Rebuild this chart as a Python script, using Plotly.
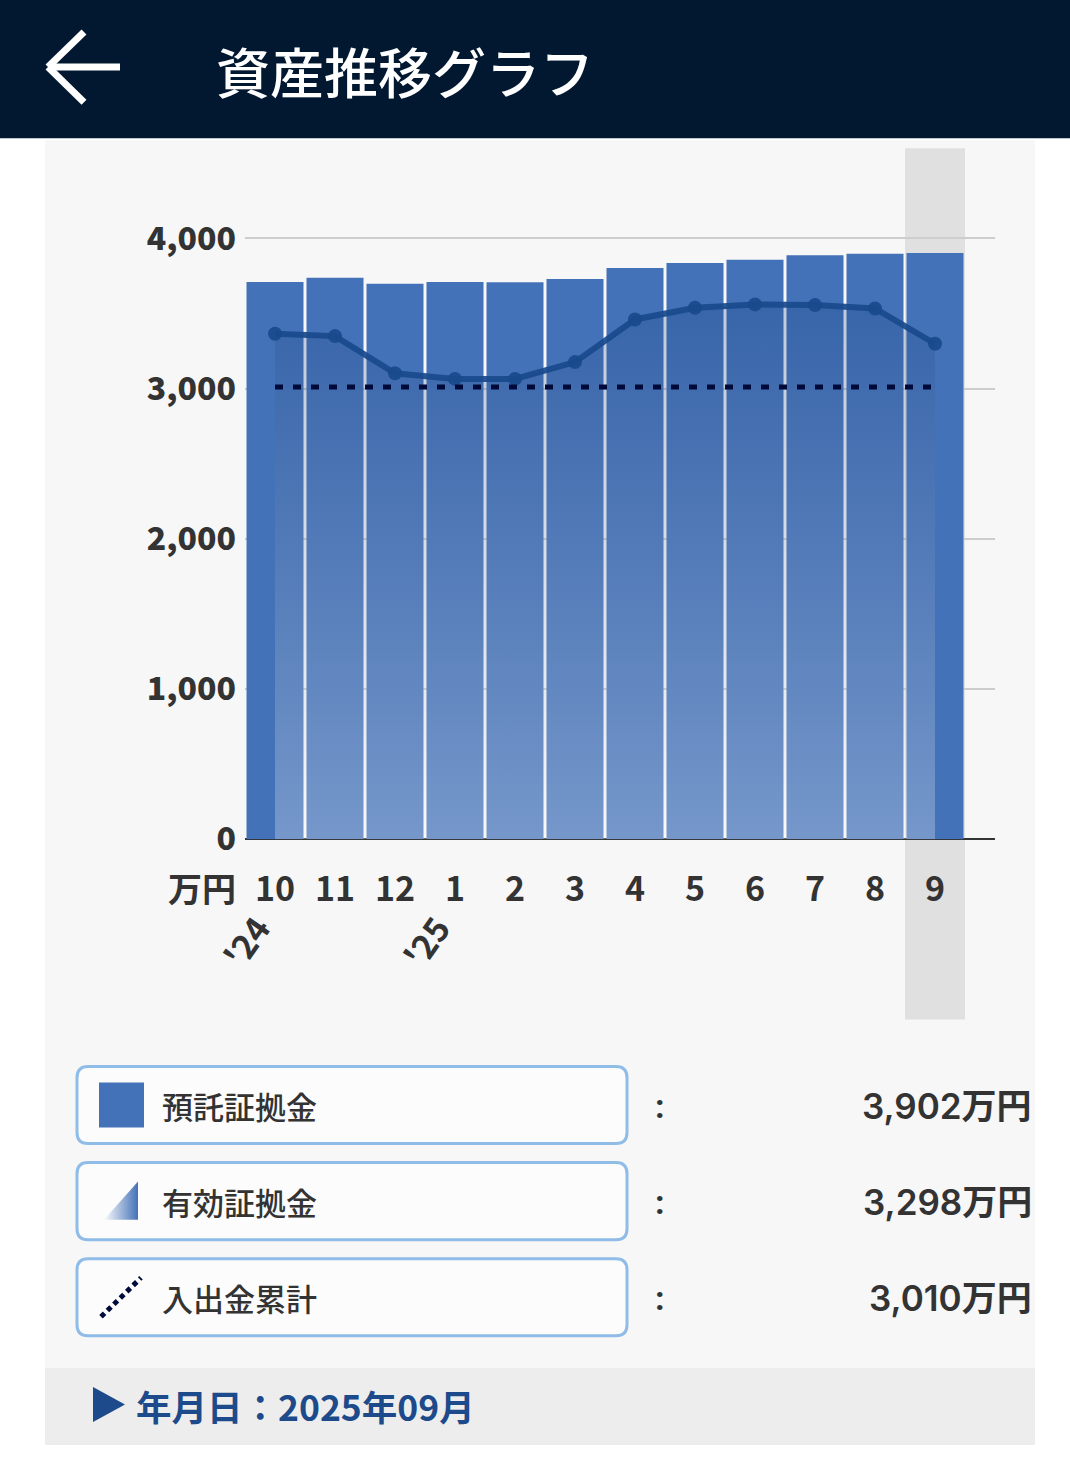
import plotly.graph_objects as go

W, H = 1070, 1458          # reference picture size (layout coordinates below are in these pixels)
PAGE_H = 1480              # figure height that the browser viewport actually shows

# ---------------- data ----------------
month_labels = ["10", "11", "12", "1", "2", "3", "4", "5", "6", "7", "8", "9"]
year_labels = ["'24", "'25"]
year_label_pos = [0, 3]
deposit = [3710, 3737, 3697, 3710, 3708, 3730, 3803, 3835, 3857, 3888, 3897, 3902]      # 預託証拠金
effective = [3365, 3349, 3102, 3064, 3064, 3176, 3460, 3538, 3560, 3556, 3533, 3298]    # 有効証拠金
cumulative = [3010, 3010, 3010, 3010, 3010, 3010, 3010, 3010, 3010, 3010, 3010, 3010]   # 入出金累計
series_names = ["預託証拠金", "有効証拠金", "入出金累計"]
y_ticks = [0, 1000, 2000, 3000, 4000]
unit_label = "万円"
title_text = "資産推移グラフ"
date_text = "年月日：2025年09月"
selected_index = 11

# ---------------- style ----------------
CJK = "Noto Sans CJK JP"
BAR = "#4472b8"
LINE = "rgba(24,74,140,0.92)"
DOT = "#000a3a"
TXT = "#333333"
NAVY = "#011830"
DATEC = "#1c4a8a"

x = list(range(len(month_labels)))


def px(v):
    return v / W


def py(v):
    return 1 - v / H


fig = go.Figure()

fig.add_trace(go.Bar(x=x, y=deposit, width=0.95, marker=dict(color=BAR, line=dict(width=0)),
                     name=series_names[0], showlegend=False, hoverinfo="skip"))

fig.add_trace(go.Scatter(
    x=x, y=effective, mode="lines+markers", fill="tozeroy",
    fillgradient=dict(type="vertical", start=0, stop=max(effective),
                      colorscale=[[0, "rgba(255,255,255,0.27)"], [1, "rgba(20,60,125,0.24)"]]),
    line=dict(color=LINE, width=6), marker=dict(size=14, color=LINE),
    name=series_names[1], showlegend=False, hoverinfo="skip"))

fig.add_trace(go.Scatter(
    x=x, y=cumulative, mode="lines", line=dict(color=DOT, width=5, dash="8px,10px"),
    name=series_names[2], showlegend=False, hoverinfo="skip"))

# legend icons in pixel space (overlay axes)
fig.add_trace(go.Scatter(
    x=[104, 138, 138, 104], y=[1218, 1218, 1180, 1218], mode="none", fill="toself",
    fillgradient=dict(type="horizontal", start=104, stop=138,
                      colorscale=[[0, "rgba(68,114,184,0)"], [1, "rgba(68,114,184,1)"]]),
    xaxis="x2", yaxis="y2", showlegend=False, hoverinfo="skip"))
fig.add_trace(go.Scatter(
    x=[101, 141], y=[1315, 1276], mode="lines", line=dict(color=DOT, width=5, dash="5px,4px"),
    xaxis="x2", yaxis="y2", showlegend=False, hoverinfo="skip"))

shapes = []
# page backgrounds
shapes.append(dict(type="rect", xref="paper", yref="paper", x0=px(0), x1=px(W), y0=py(138), y1=py(0),
                   fillcolor=NAVY, line=dict(width=0), layer="below"))
shapes.append(dict(type="rect", xref="paper", yref="paper", x0=px(45), x1=px(1035), y0=py(1366), y1=py(140),
                   fillcolor="#f7f7f7", line=dict(width=0), layer="below"))
shapes.append(dict(type="rect", xref="paper", yref="paper", x0=px(45), x1=px(1035), y0=py(1443), y1=py(1366),
                   fillcolor="#ededed", line=dict(width=0), layer="below"))
# highlight band on selected month
shapes.append(dict(type="rect", xref="x", yref="paper", x0=selected_index - 0.5, x1=selected_index + 0.5,
                   y0=py(1018), y1=py(148), fillcolor="#e0e0e0", line=dict(width=0), layer="between"))
# header back arrow
for (a, b, c, d) in [(48, 67, 120, 67), (48, 67, 84, 32), (48, 67, 84, 102)]:
    shapes.append(dict(type="line", xref="paper", yref="paper", x0=px(a), y0=py(b), x1=px(c), y1=py(d),
                       line=dict(color="white", width=7)))


def rrect(x0, y0, x1, y1, r):
    rx, ry = r / W, r / H
    X0, X1, Y0, Y1 = px(x0), px(x1), py(y1), py(y0)
    return (f"M{X0+rx},{Y0} L{X1-rx},{Y0} Q{X1},{Y0} {X1},{Y0+ry} L{X1},{Y1-ry} Q{X1},{Y1} {X1-rx},{Y1} "
            f"L{X0+rx},{Y1} Q{X0},{Y1} {X0},{Y1-ry} L{X0},{Y0+ry} Q{X0},{Y0} {X0+rx},{Y0} Z")


boxes = [(1065, 1142), (1161, 1238), (1257, 1334)]
for (t, b) in boxes:
    shapes.append(dict(type="path", xref="paper", yref="paper", path=rrect(77, t, 627, b, 11),
                       fillcolor="#fcfcfc", line=dict(color="#90bde8", width=3), layer="below"))
shapes.append(dict(type="rect", xref="paper", yref="paper", x0=px(99), x1=px(144), y0=py(1126), y1=py(1081),
                   fillcolor=BAR, line=dict(width=0)))
# date triangle
shapes.append(dict(type="path", xref="paper", yref="paper",
                   path=f"M{px(93)},{py(1385)} L{px(125)},{py(1402.5)} L{px(93)},{py(1420)} Z",
                   fillcolor=DATEC, line=dict(width=0)))

ann = []
ann.append(dict(text=title_text, x=px(214), y=py(70), xref="paper", yref="paper", xanchor="left",
                yanchor="middle", showarrow=False, font=dict(family=CJK, size=54, color="white", weight=500)))
ann.append(dict(text=unit_label, x=px(238), y=py(886), xref="paper", yref="paper", xanchor="right",
                yanchor="middle", showarrow=False, font=dict(family=CJK, size=34, color=TXT, weight=700)))
for lab, pos in zip(year_labels, year_label_pos):
    ann.append(dict(text=lab, x=pos - 0.5, y=py(940), xref="x", yref="paper",
                    xanchor="center", yanchor="middle", textangle=-55, showarrow=False,
                    font=dict(family=CJK, size=34, color=TXT, weight=700)))
latest = [deposit[-1], effective[-1], cumulative[-1]]
for i, (t, b) in enumerate(boxes):
    yc = (t + b) / 2
    ann.append(dict(text=series_names[i], x=px(160), y=py(yc), xref="paper", yref="paper", xanchor="left",
                    yanchor="middle", showarrow=False, font=dict(family=CJK, size=31, color=TXT, weight=500)))
    ann.append(dict(text=":", x=px(660), y=py(yc + 1), xref="paper", yref="paper", xanchor="center",
                    yanchor="middle", showarrow=False, font=dict(family="Roboto", size=34, color=TXT, weight=700)))
    ann.append(dict(text=f"{latest[i]:,}{unit_label}", x=px(1034), y=py(yc + 1), xref="paper", yref="paper",
                    xanchor="right", yanchor="middle", showarrow=False,
                    font=dict(family="Inter, " + CJK, size=35, color=TXT, weight=600)))
ann.append(dict(text=date_text, x=px(134), y=py(1404), xref="paper", yref="paper", xanchor="left",
                yanchor="middle", showarrow=False, font=dict(family=CJK, size=35.5, color=DATEC, weight=700)))

fig.update_layout(
    width=W, height=PAGE_H, margin=dict(l=0, r=0, t=0, b=0),
    paper_bgcolor="white", plot_bgcolor="rgba(0,0,0,0)",
    shapes=shapes, annotations=ann, showlegend=False, bargap=0.05,
    xaxis=dict(domain=[px(245), px(995)], range=[-0.5, 12], tickmode="array", tickvals=x,
               ticktext=month_labels, showgrid=False, zeroline=False, showline=False, ticks="",
               ticklabelstandoff=27, tickfont=dict(family=CJK, size=34, color=TXT, weight=700),
               fixedrange=True),
    yaxis=dict(domain=[py(838), py(148)], range=[0, 4600], tickmode="array", tickvals=y_ticks,
               tickformat=",d", showgrid=True, gridcolor="#cdcdcd", gridwidth=2,
               zeroline=True, zerolinecolor="#333333", zerolinewidth=2, ticks="",
               ticklabelstandoff=8, tickfont=dict(family=CJK, size=32, color=TXT, weight=800),
               fixedrange=True),
    xaxis2=dict(domain=[0, 1], range=[0, W], visible=False, anchor="y2", fixedrange=True),
    yaxis2=dict(domain=[0, 1], range=[H, 0], visible=False, anchor="x2", fixedrange=True),
)

fig.write_html(
    "out.html",
    config={"displayModeBar": False, "staticPlot": True},
    post_script="document.body.style.margin='0px';",
)
